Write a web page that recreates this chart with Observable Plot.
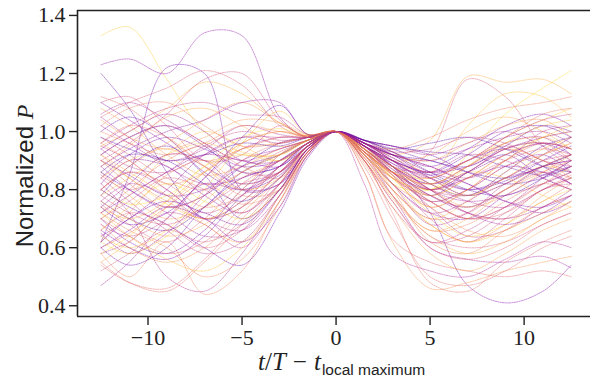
<!DOCTYPE html>
<html><head><meta charset="utf-8">
<script src="https://cdn.jsdelivr.net/npm/d3@7"></script>
<script src="https://cdn.jsdelivr.net/npm/@observablehq/plot@0.6"></script>
<style>html,body{margin:0;padding:0;background:#fff;overflow:hidden}</style>
</head><body><div id="chart"></div>
<script>
// time grid (t/T - t_local maximum)
const tGrid = [-12.5,-11,-9,-7,-5,-3,-1.5,0,1.5,3,5,7,9,11,12.5];
// colour value of each curve (plasma colormap position)
const shade = [0.88,0.30,0.18,0.22,0.50,0.80,0.55,0.92,0.85,0.25,0.58,0.72,0.35,0.62,0.40,0.68,0.15,0.45,0.78,0.20,
  0.60,0.32,0.75,0.48,0.14,0.66,0.38,0.82,0.28,0.54,0.70,0.24,0.86,0.42,0.64,0.16,0.52,0.76,0.34,0.90,
  0.26,0.58,0.44,0.72,0.20,0.84,0.36,0.62,0.30,0.78,0.46,0.14,0.68,0.40,0.88,0.24,0.56,0.80,0.32,0.74,
  0.50,0.18,0.60,0.38,0.66,0.28,0.84,0.42,0.22,0.56,
  0.30,0.85,0.45,0.20,0.70,0.58,0.36,0.80,0.26,0.64,0.50,0.16,0.90,0.40,0.74,0.32,0.60,0.22,0.78,0.46];
// normalized P of each curve on tGrid
const curves = [
  [1.33,1.36,1.18,1.00,0.93,0.92,0.97,1,0.95,0.86,0.80,0.88,0.98,1.04,1.08],
  [1.23,1.25,1.20,1.34,1.33,1.05,0.98,1,0.93,0.82,0.72,0.70,0.78,0.85,0.88],
  [1.20,1.08,0.86,0.70,0.76,0.88,0.96,1,0.95,0.90,0.85,0.80,0.83,0.90,0.95],
  [0.62,0.85,1.22,1.20,0.80,0.82,0.94,1,0.96,0.88,0.78,0.86,0.92,0.84,0.80],
  [1.10,1.12,1.02,0.90,0.92,1.02,0.98,1,0.94,0.85,0.70,0.62,0.70,0.80,0.82],
  [0.95,1.00,1.08,1.17,1.13,1.03,0.985,1,0.96,0.92,0.97,1.19,1.17,1.18,1.13],
  [1.05,1.10,1.15,1.21,1.16,1.02,0.98,1,0.95,0.86,0.93,1.18,1.12,0.95,0.88],
  [0.80,0.75,0.78,0.88,0.98,1.01,0.985,1,0.94,0.82,0.80,0.92,1.06,1.15,1.21],
  [0.70,0.78,0.92,1.00,0.95,0.90,0.96,1,0.97,0.93,0.86,1.02,1.13,1.12,1.05],
  [0.90,0.85,0.78,0.80,0.88,0.92,0.97,1,0.95,0.88,0.72,0.47,0.41,0.45,0.54],
  [0.75,0.68,0.62,0.70,0.82,0.90,0.96,1,0.86,0.63,0.55,0.52,0.50,0.52,0.50],
  [0.68,0.60,0.55,0.60,0.72,0.84,0.94,1,0.86,0.62,0.46,0.48,0.52,0.55,0.57],
  [0.47,0.55,0.70,0.82,0.80,0.86,0.95,1,0.92,0.78,0.60,0.56,0.55,0.57,0.53],
  [0.55,0.48,0.45,0.55,0.68,0.82,0.94,1,0.90,0.72,0.48,0.45,0.55,0.62,0.66],
  [0.82,0.72,0.50,0.45,0.58,0.78,0.93,1,0.94,0.82,0.68,0.72,0.82,0.88,0.90],
  [0.58,0.50,0.62,0.44,0.52,0.76,0.92,1,0.93,0.80,0.62,0.58,0.66,0.74,0.78],
  [0.78,0.88,0.95,0.85,0.70,0.80,0.94,1,0.96,0.90,0.82,0.78,0.86,0.95,0.98],
  [0.95,0.90,0.80,0.72,0.78,0.92,0.97,1,0.96,0.92,0.88,0.84,0.90,1.00,1.02],
  [0.88,0.95,1.05,1.08,1.02,0.95,0.97,1,0.95,0.90,0.84,0.78,0.82,0.88,0.86],
  [1.00,1.05,0.98,0.86,0.80,0.85,0.95,1,0.97,0.94,0.90,0.88,0.95,1.02,1.00],
  [0.72,0.80,0.90,0.95,0.88,0.84,0.95,1,0.93,0.84,0.76,0.70,0.72,0.80,0.85],
  [0.65,0.58,0.65,0.78,0.90,0.94,0.97,1,0.95,0.88,0.82,0.88,0.96,0.98,0.92],
  [1.08,1.02,0.92,0.85,0.88,0.94,0.97,1,0.94,0.87,0.80,0.74,0.78,0.86,0.92],
  [0.85,0.80,0.86,0.95,1.00,0.97,0.98,1,0.96,0.90,0.84,0.90,0.95,0.90,0.86],
  [0.92,0.98,1.02,0.95,0.86,0.88,0.95,1,0.97,0.93,0.86,0.80,0.78,0.84,0.90],
  [0.60,0.65,0.74,0.82,0.75,0.80,0.93,1,0.90,0.78,0.66,0.68,0.76,0.82,0.80],
  [1.05,0.98,0.90,0.94,1.02,0.99,0.98,1,0.97,0.95,0.92,0.96,1.00,0.95,0.90],
  [0.74,0.70,0.76,0.86,0.94,0.96,0.98,1,0.92,0.80,0.70,0.76,0.86,0.94,0.98],
  [0.82,0.90,0.88,0.78,0.72,0.82,0.94,1,0.95,0.86,0.76,0.80,0.88,0.92,0.86],
  [0.98,0.92,0.84,0.80,0.86,0.93,0.97,1,0.93,0.84,0.78,0.84,0.92,0.96,0.94],
  [0.62,0.72,0.85,0.90,0.82,0.86,0.95,1,0.92,0.82,0.74,0.66,0.64,0.70,0.76],
  [0.70,0.62,0.58,0.66,0.80,0.90,0.96,1,0.96,0.91,0.85,0.90,0.94,0.88,0.82],
  [0.90,0.84,0.75,0.70,0.74,0.86,0.95,1,0.93,0.86,0.82,0.88,0.96,1.02,1.04],
  [0.58,0.62,0.72,0.68,0.60,0.76,0.92,1,0.94,0.86,0.74,0.64,0.66,0.74,0.78],
  [1.02,1.08,1.10,1.02,0.95,0.96,0.98,1,0.95,0.88,0.80,0.72,0.70,0.76,0.82],
  [0.76,0.70,0.66,0.74,0.86,0.92,0.97,1,0.97,0.95,0.93,0.92,0.88,0.85,0.88],
  [0.52,0.58,0.66,0.62,0.68,0.80,0.93,1,0.91,0.78,0.64,0.60,0.62,0.68,0.72],
  [0.86,0.78,0.70,0.74,0.84,0.90,0.96,1,0.89,0.74,0.58,0.52,0.58,0.66,0.70],
  [0.94,1.00,1.06,1.00,0.90,0.90,0.96,1,0.96,0.92,0.90,0.94,0.98,1.00,0.96],
  [0.66,0.74,0.82,0.76,0.70,0.80,0.94,1,0.93,0.84,0.72,0.64,0.68,0.76,0.80],
  [1.10,1.04,0.96,0.88,0.82,0.86,0.95,1,0.95,0.89,0.84,0.80,0.84,0.92,0.98],
  [0.80,0.86,0.82,0.74,0.78,0.88,0.96,1,0.93,0.85,0.74,0.80,0.90,0.96,0.94],
  [0.68,0.64,0.70,0.84,0.94,0.98,0.98,1,0.94,0.88,0.86,0.92,0.90,0.84,0.80],
  [0.96,0.90,0.82,0.86,0.96,1.00,0.985,1,0.92,0.80,0.68,0.62,0.68,0.78,0.84],
  [0.60,0.54,0.60,0.74,0.84,0.88,0.96,1,0.95,0.87,0.78,0.74,0.80,0.88,0.92],
  [0.78,0.84,0.92,0.96,0.92,0.92,0.97,1,0.92,0.84,0.80,0.86,0.84,0.78,0.74],
  [0.88,0.80,0.72,0.64,0.66,0.80,0.94,1,0.96,0.90,0.80,0.76,0.78,0.82,0.86],
  [1.12,1.08,0.98,0.90,0.94,0.98,0.985,1,0.95,0.88,0.84,0.90,0.98,1.06,1.08],
  [0.74,0.82,0.92,0.90,0.80,0.82,0.94,1,0.97,0.92,0.86,0.82,0.76,0.72,0.76],
  [0.55,0.62,0.74,0.86,0.96,1.00,0.98,1,0.95,0.90,0.92,1.00,1.05,1.00,0.94],
  [0.84,0.76,0.66,0.58,0.62,0.78,0.93,1,0.90,0.76,0.62,0.66,0.74,0.82,0.86],
  [0.98,0.94,0.90,0.92,0.96,0.95,0.98,1,0.97,0.94,0.96,0.98,0.94,0.88,0.86],
  [0.72,0.66,0.60,0.50,0.56,0.74,0.92,1,0.94,0.86,0.76,0.70,0.74,0.82,0.88],
  [1.06,1.10,1.04,0.96,0.90,0.94,0.97,1,0.96,0.90,0.82,0.76,0.74,0.80,0.84],
  [0.62,0.58,0.64,0.76,0.86,0.92,0.97,1,0.93,0.85,0.78,0.84,0.92,0.98,1.00],
  [0.84,0.92,0.98,0.94,0.88,0.90,0.96,1,0.96,0.93,0.88,0.94,1.02,1.06,1.02],
  [0.70,0.76,0.84,0.80,0.72,0.84,0.95,1,0.91,0.80,0.70,0.72,0.80,0.86,0.84],
  [0.92,0.86,0.78,0.68,0.62,0.78,0.93,1,0.90,0.77,0.64,0.58,0.62,0.70,0.74],
  [0.64,0.70,0.80,0.92,0.98,0.96,0.98,1,0.95,0.90,0.86,0.88,0.94,0.98,1.00],
  [0.80,0.88,0.96,1.04,1.10,1.03,0.985,1,0.96,0.92,0.90,0.96,1.02,1.04,0.98],
  [0.90,0.96,1.06,1.18,1.20,1.04,0.98,1,0.95,0.88,0.80,0.78,0.84,0.90,0.92],
  [0.86,0.80,0.74,0.78,0.88,0.96,0.98,1,0.97,0.95,0.92,0.86,0.82,0.84,0.88],
  [0.54,0.48,0.46,0.56,0.70,0.82,0.94,1,0.88,0.70,0.50,0.47,0.52,0.60,0.64],
  [0.76,0.82,0.78,0.70,0.74,0.86,0.95,1,0.82,0.58,0.52,0.50,0.56,0.62,0.60],
  [1.00,0.96,0.92,0.96,1.02,1.00,0.985,1,0.96,0.94,0.98,1.04,1.08,1.10,1.12],
  [0.60,0.66,0.74,0.70,0.62,0.74,0.92,1,0.93,0.86,0.80,0.84,0.88,0.86,0.82],
  [0.72,0.64,0.56,0.52,0.60,0.76,0.93,1,0.92,0.82,0.68,0.62,0.66,0.72,0.76],
  [0.94,0.88,0.86,0.92,0.98,0.98,0.98,1,0.94,0.86,0.76,0.70,0.74,0.84,0.90],
  [0.80,0.74,0.68,0.60,0.54,0.72,0.91,1,0.95,0.88,0.80,0.86,0.94,0.96,0.92],
  [0.66,0.72,0.68,0.60,0.66,0.82,0.95,1,0.90,0.76,0.60,0.56,0.60,0.68,0.72],
  [0.88,0.94,1.00,1.04,1.10,1.10,0.99,1,0.95,0.88,0.82,0.86,0.92,0.96,0.94],
  [0.64,0.60,0.66,0.80,0.96,1.07,0.99,1,0.94,0.84,0.74,0.80,0.90,0.98,1.02],
  [0.96,1.02,1.08,1.10,1.06,1.05,0.99,1,0.96,0.93,0.94,0.98,0.96,0.90,0.88],
  [0.74,0.68,0.72,0.84,0.98,1.09,0.99,1,0.95,0.90,0.86,0.92,1.00,1.02,0.98],
  [0.92,0.84,0.76,0.70,0.76,0.88,0.96,1,0.92,0.84,0.78,0.74,0.80,0.86,0.90],
  [0.70,0.64,0.58,0.62,0.74,0.86,0.95,1,0.95,0.88,0.80,0.84,0.90,0.94,0.92],
  [1.02,0.96,0.88,0.82,0.84,0.90,0.96,1,0.94,0.86,0.78,0.72,0.70,0.74,0.80],
  [0.84,0.90,0.94,0.88,0.80,0.84,0.95,1,0.93,0.86,0.84,0.90,0.96,0.98,0.94],
  [0.66,0.60,0.56,0.64,0.78,0.88,0.96,1,0.96,0.92,0.88,0.82,0.76,0.74,0.78],
  [0.96,1.02,0.98,0.88,0.78,0.80,0.93,1,0.93,0.86,0.80,0.86,0.94,0.96,0.90],
  [0.78,0.72,0.68,0.74,0.82,0.86,0.95,1,0.90,0.74,0.62,0.64,0.72,0.80,0.84],
  [0.86,0.92,0.90,0.82,0.76,0.84,0.95,1,0.96,0.92,0.90,0.86,0.84,0.88,0.92],
  [0.58,0.64,0.76,0.88,0.92,0.90,0.96,1,0.94,0.88,0.82,0.78,0.84,0.92,0.96],
  [0.80,0.86,0.80,0.70,0.66,0.78,0.93,1,0.92,0.82,0.72,0.76,0.84,0.86,0.82],
  [1.04,0.98,0.94,0.98,1.04,1.03,0.99,1,0.94,0.86,0.82,0.88,0.94,0.90,0.84],
  [0.72,0.78,0.86,0.92,0.90,0.88,0.96,1,0.95,0.89,0.80,0.72,0.68,0.72,0.78],
  [0.90,0.82,0.74,0.78,0.90,0.96,0.98,1,0.93,0.85,0.76,0.80,0.88,0.92,0.96],
  [0.62,0.70,0.76,0.72,0.68,0.80,0.94,1,0.96,0.92,0.84,0.78,0.82,0.88,0.90],
  [0.76,0.70,0.64,0.68,0.80,0.92,0.97,1,0.91,0.78,0.66,0.70,0.80,0.88,0.92],
  [0.92,0.98,1.02,0.96,0.86,0.86,0.95,1,0.96,0.91,0.86,0.90,0.98,1.04,1.06]
];
const yTicks = [0.4,0.6,0.8,1.0,1.2,1.4];
const xTicks = [-10,-5,0,5,10];

const rows = curves.flatMap((vals, i) => vals.map((p, j) => ({t: tGrid[j], p, id: i, c: shade[i]})));
const xDom = [-13.75, 13.53];
const yDom = [0.363, 1.417];
const ink = "#222";

const chart = Plot.plot({
  width: 590, height: 378,
  marginLeft: 77, marginRight: 0, marginTop: 10, marginBottom: 62,
  style: {fontFamily: "'Liberation Serif', 'DejaVu Serif', serif", fontSize: "22px", color: ink, background: "#fff"},
  x: {domain: xDom, ticks: xTicks, tickSize: 9, tickPadding: 4, label: null,
      tickFormat: d => d < 0 ? "\u2212" + Math.abs(d) : String(d)},
  y: {domain: yDom, ticks: yTicks, tickSize: 8, tickPadding: 4, label: null,
      tickFormat: d3.format(".1f")},
  color: {type: "linear", scheme: "plasma", domain: [0, 1]},
  marks: [
    Plot.line(rows, {x: "t", y: "p", z: "id", stroke: "c", strokeWidth: 0.9, strokeOpacity: 0.5,
      strokeDasharray: "1.3,1.1", curve: "catmull-rom"}),
    Plot.ruleY([yDom[1]], {stroke: ink, strokeWidth: 1.6}),
    Plot.ruleY([yDom[0]], {stroke: ink, strokeWidth: 1.6}),
    Plot.ruleX([xDom[0]], {stroke: ink, strokeWidth: 1.6})
  ]
});
document.getElementById("chart").appendChild(chart);

const svg = d3.select(chart);
svg.selectAll("g[aria-label='x-axis tick'] path, g[aria-label='y-axis tick'] path").attr("stroke-width", 1.4);
// x label
const xl = svg.append("text").attr("x", 258).attr("y", 370).attr("fill", ink).attr("text-anchor", "start")
  .style("font-family", "'Liberation Serif', serif").style("font-size", "25px");
xl.append("tspan").style("font-style", "italic").text("t");
xl.append("tspan").text("/");
xl.append("tspan").style("font-style", "italic").text("T");
xl.append("tspan").attr("dx", 7).text("\u2212");
xl.append("tspan").attr("dx", 7).style("font-style", "italic").text("t");
xl.append("tspan").attr("dy", 5).attr("dx", 1).style("font-family", "'Liberation Sans', sans-serif").style("font-size", "15.5px").text("local maximum");
// y label
const yl = svg.append("text").attr("transform", "translate(33,176) rotate(-90)").attr("text-anchor", "middle").attr("fill", ink)
  .style("font-size", "24px");
yl.append("tspan").style("font-family", "'Liberation Sans', sans-serif").text("Normalized ");
yl.append("tspan").style("font-family", "'Liberation Serif', serif").style("font-style", "italic").text("P");
</script>
</body></html>
